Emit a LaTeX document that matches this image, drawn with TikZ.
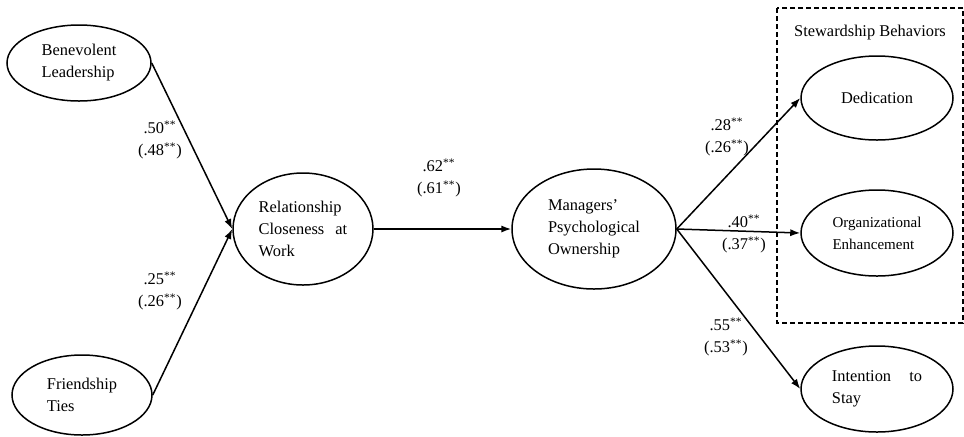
\documentclass[tikz,border=0pt]{standalone}
\usepackage{fontspec}
\setmainfont{Liberation Serif}
\usetikzlibrary{shapes.geometric, arrows.meta, positioning}
\newcommand{\sig}{\textsuperscript{**}}
\tikzset{
    % Latent variable ellipses
    latent/.style={
        ellipse,
        draw=black,
        line width=0.75pt,
        inner sep=0pt,
        minimum width=74pt,
        minimum height=41pt,
        align=left,
        font=\fontsize{8.2}{11}\selectfont
    },
    coef/.style={
        align=center,
        inner sep=0pt,
        font=\fontsize{8.2}{11}\selectfont
    },
    path arrow/.style={
        -{Latex[length=5pt,width=3.6pt]},
        line width=0.75pt,
        black
    }
}

\begin{document}
\begin{tikzpicture}[x=0.5pt, y=-0.5pt]
        \useasboundingbox (0,0) rectangle (964,436);

        % Antecedents
        \node[latent, minimum width=72pt, minimum height=38pt] (benev) at (79, 63) {
            Benevolent\\
            Leadership
        };
        \node[latent, minimum width=70pt, minimum height=40pt] (friend) at (82, 395) {
            Friendship\\
            Ties
        };

        % Mediators
        \node[latent, minimum width=70pt, minimum height=56pt] (close) at (303, 229) {
            Relationship\\
            Closeness\hspace{3.5pt} at\\
            Work
        };
        \node[latent, minimum width=82pt, minimum height=60pt] (owner) at (594, 229) {
            Managers'\\
            Psychological\\
            Ownership
        };

        % Outcomes
        \node[latent, minimum width=76pt, minimum height=42pt] (dedic) at (877, 98) {Dedication};
        \node[latent, minimum width=76pt, minimum height=43pt,
              font=\fontsize{7.5}{11}\selectfont] (enhance) at (877, 233) {
            Organizational\\
            Enhancement
        };
        \node[latent, minimum width=76pt, minimum height=43pt] (stay) at (877, 389) {
            Intention\hspace{7pt} to\\
            Stay
        };

        % Stewardship group
        \coordinate (boxtl) at (777, 8);
        \coordinate (boxbr) at (963, 323);
        \draw[line width=0.6pt, dash pattern=on 2.5pt off 1.5pt] (boxtl) rectangle (boxbr);
        \node[coef] (steward) at (870, 33) {Stewardship Behaviors};

        % Paths
        \draw[path arrow] (benev.east) -- (close.west);
        \draw[path arrow] (friend.east) -- (close.west);
        \draw[path arrow] (close.east) -- (owner.west);
        \draw[path arrow] (owner.east) -- (dedic.west);
        \draw[path arrow] (owner.east) -- (enhance.west);
        \draw[path arrow] (owner.east) -- (stay.west);

        % Coefficients
        \node[coef] (b50) at (160, 140) {.50\sig\\(.48\sig)};
        \node[coef] (f25) at (160, 291) {.25\sig\\(.26\sig)};
        \node[coef] (c62) at (439, 178) {.62\sig\\(.61\sig)};
        \node[coef] (o28) at (727, 137) {.28\sig\\(.26\sig)};
        \node[coef] (o40) at (744, 234) {.40\sig\\(.37\sig)};
        \node[coef] (o55) at (726, 337) {.55\sig\\(.53\sig)};
    \end{tikzpicture}
\end{document}
